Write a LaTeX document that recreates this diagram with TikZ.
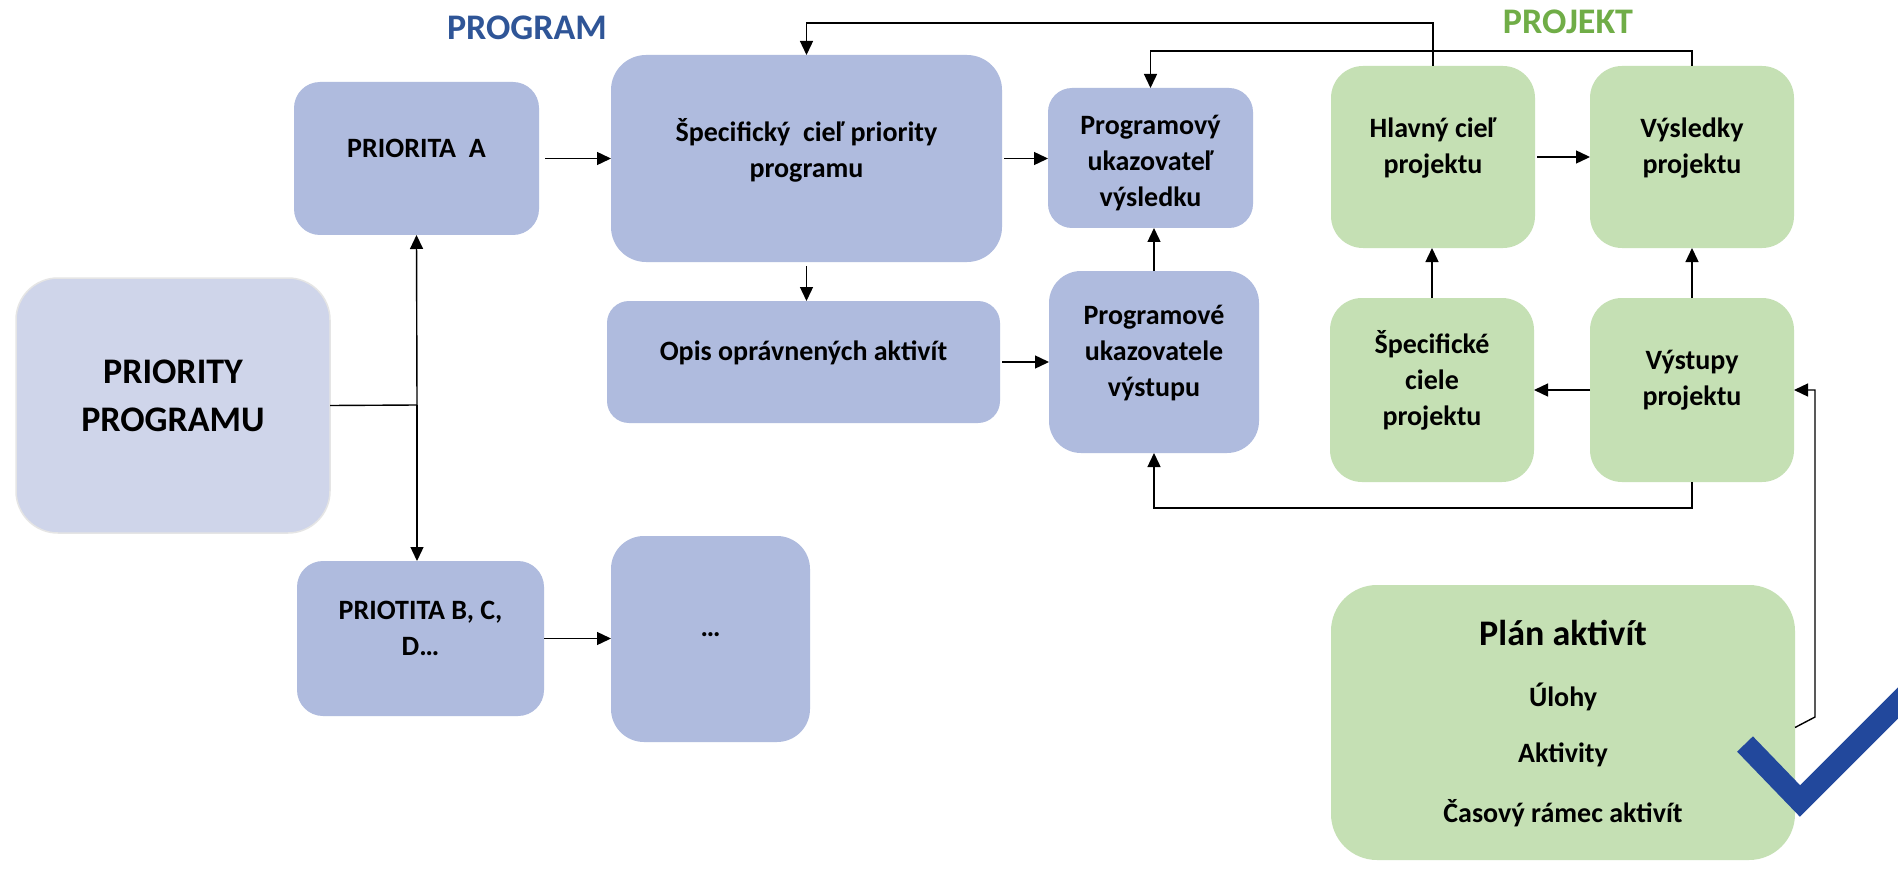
\documentclass[tikz,border=0pt]{standalone}
\usepackage{fontspec}
\setmainfont{Carlito}
\usetikzlibrary{arrows.meta}
\definecolor{boxblue}{HTML}{AFBBDE}
\definecolor{boxlight}{HTML}{CFD5EA}
\definecolor{boxgreen}{HTML}{C5E0B4}
\definecolor{titleblue}{HTML}{2F5597}
\definecolor{titlegreen}{HTML}{70AD47}
\definecolor{checkblue}{HTML}{22489C}
\begin{document}
\begin{tikzpicture}[x=1pt,y=-1pt,
  bx/.style={inner sep=0pt, outer sep=0pt, draw=none},
  bbox/.style={bx, fill=boxblue},
  gbox/.style={bx, fill=boxgreen},
  txt/.style={font=\fontsize{28}{36}\selectfont\bfseries, align=center, inner sep=0pt},
  bigtxt/.style={font=\fontsize{36}{48}\selectfont\bfseries, align=center, inner sep=0pt},
  arr/.style={draw=black, line width=1.4pt, -{Triangle[length=14pt,width=13pt]}},
  ln/.style={draw=black, line width=1.4pt},
]
\useasboundingbox (0,0) rectangle (1898,869);
\fill[white] (0,0) rectangle (1898,869);

% titles
\node[bigtxt, text=titleblue] (tprog) at (527,28) {PROGRAM};
\node[bigtxt, text=titlegreen] (tproj) at (1568,22) {PROJEKT};

% boxes
\node[bx, fill=boxlight, draw=black!10, line width=1.5pt, rounded corners=42pt, minimum width=314pt, minimum height=255pt] (pp) at (173,405.5) {};
\node[bbox, rounded corners=26pt, minimum width=245pt, minimum height=153pt] (pa) at (416.5,158.5) {};
\node[bbox, rounded corners=35pt, minimum width=391pt, minimum height=207pt] (sp) at (806.5,158.5) {};
\node[bbox, rounded corners=22pt, minimum width=393pt, minimum height=122pt] (op) at (803.5,362) {};
\node[bbox, rounded corners=24pt, minimum width=205pt, minimum height=140pt] (pu) at (1150.5,158) {};
\node[bbox, rounded corners=32pt, minimum width=210pt, minimum height=182pt] (pv) at (1154,362) {};
\node[gbox, rounded corners=32pt, minimum width=204pt, minimum height=182pt] (hc) at (1433,157) {};
\node[gbox, rounded corners=32pt, minimum width=204pt, minimum height=182pt] (vy) at (1692,157) {};
\node[gbox, rounded corners=32pt, minimum width=204pt, minimum height=184pt] (sc) at (1432,390) {};
\node[gbox, rounded corners=32pt, minimum width=204pt, minimum height=184pt] (vs) at (1692,390) {};
\node[gbox, rounded corners=46pt, minimum width=464pt, minimum height=275pt] (pl) at (1563,722.5) {};
\node[bbox, rounded corners=26pt, minimum width=247pt, minimum height=155pt] (pb) at (420.5,638.5) {};
\node[bbox, rounded corners=33pt, minimum width=199pt, minimum height=206pt] (dd) at (710.5,639) {};

% texts
\node[bigtxt] (pp-t) at (173,396) {PRIORITY\\PROGRAMU};
\node[txt] (pa-t) at (416.5,148) {PRIORITA\ \ A};
\node[txt] (sp-t) at (806.5,150) {Špecifický\ \ cieľ priority\\programu};
\node[txt] (op-t) at (803.5,353) {Opis oprávnených aktivít};
\node[txt] (pu-t) at (1150.5,163.5) {Programový\\ukazovateľ\\výsledku};
\node[txt] (pv-t) at (1154,353.5) {Programové\\ukazovatele\\výstupu};
\node[txt] (hc-t) at (1433,148.5) {Hlavný cieľ\\projektu};
\node[txt] (vy-t) at (1692,148.5) {Výsledky\\projektu};
\node[txt] (sc-t) at (1432,380) {Špecifické\\ciele\\projektu};
\node[txt] (vs-t) at (1692,380) {Výstupy\\projektu};
\node[txt] (pb-t) at (420.5,628.5) {PRIOTITA B, C,\\D…};
\node[txt] (dd-t) at (710.5,635) {…};
\node[bigtxt] (pl-t1) at (1563,633) {Plán aktivít};
\node[txt] (pl-t2) at (1563,697) {Úlohy};
\node[txt] (pl-t3) at (1563,755) {Aktivity};
\node[txt] (pl-t4) at (1563,813) {Časový rámec aktivít};

% connectors
\coordinate (j) at (417,405);
\draw[ln] (pp.east) -- (j);
\draw[arr] (j) -- (pa.south);
\draw[arr] (j) -- (j |- pb.north);
\draw[arr, shorten <=6pt] (pa.east) -- (pa.east -| sp.west);
\draw[arr, shorten <=4pt] (sp.south) -- (sp.south |- op.north);
\draw[arr, shorten <=2pt] (sp.east) -- (sp.east -| pu.west);
\draw[arr, shorten <=2pt] (op.east) -- (op.east -| pv.west);
\draw[arr] (pv.north) -- (pv.north |- pu.south);
\draw[arr] (pb.east) -- (pb.east -| dd.west);
\draw[arr] (hc.north) -- ++(0,-43) -| (sp.north);
\draw[arr] (vy.north) -- ++(0,-15) -| (pu.north);
\draw[arr, shorten <=2pt] (hc.east) -- (hc.east -| vy.west);
\draw[arr] (sc.north) -- (sc.north |- hc.south);
\draw[arr] (vs.north) -- (vs.north |- vy.south);
\draw[arr] (vs.west) -- (vs.west -| sc.east);
\draw[arr] (vs.south) -- ++(0,26) -| (pv.south);
\coordinate (pk) at (1815,717);
\draw[arr] ([yshift=-5pt]pl.east) -- (pk) |- (vs.east);

% check mark
\begin{scope}
\clip (0,0) rectangle (1898,869);
\draw[checkblue, line width=22pt, line join=miter, line cap=butt] (1745,744) -- (1800,801) -- (1910,691);
\end{scope}
\end{tikzpicture}
\end{document}
